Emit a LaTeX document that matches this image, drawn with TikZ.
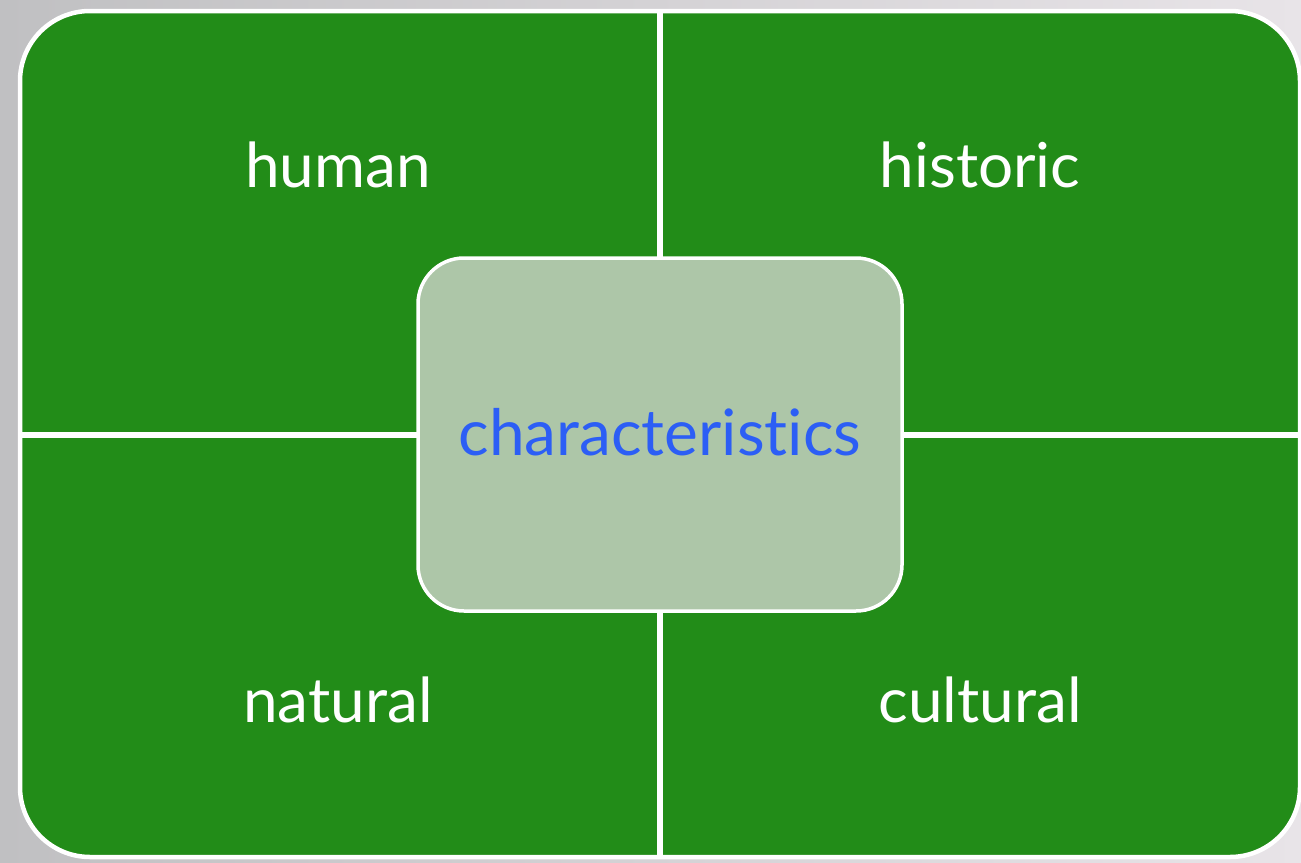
\documentclass[tikz,border=0pt]{standalone}
\usepackage{fontspec}
\setmainfont{Lato}[Ligatures={NoCommon}]
\definecolor{panelgreen}{RGB}{34,140,24}
\definecolor{hubfill}{RGB}{173,198,168}
\definecolor{hubtext}{RGB}{44,94,245}
\definecolor{bgleft}{RGB}{192,192,194}
\definecolor{bgright}{RGB}{232,228,232}
\tikzset{
  x=1pt, y=-1pt,
  divider/.style={draw=white, line width=5.5pt},
  cornertext/.style={text=white, font=\fontsize{62}{62}\selectfont, anchor=base},
  hubbox/.style={draw=white, line width=3.5pt, fill=hubfill, rounded corners=46pt,
    minimum width=484pt, minimum height=353pt, inner sep=0pt},
}
\begin{document}
\begin{tikzpicture}
% canvas
\shade[left color=bgleft, right color=bgright] (0,0) rectangle (1301,862);
\useasboundingbox (0,0) rectangle (1301,862);
% outer green panel
\draw[white, line width=4.5pt, fill=panelgreen, rounded corners=70pt] (20,11) rectangle (1300,857);
% dividers
\coordinate (top) at (660,11);
\coordinate (bottom) at (660,857);
\coordinate (left) at (20,435);
\coordinate (right) at (1300,435);
\draw[divider] (top) -- (bottom);
\draw[divider] (left) -- (right);
% central hub
\node[hubbox] (hub) at (660,434.5) {};
\node[text=hubtext, font=\fontsize{64}{64}\selectfont, anchor=base] (char) at (660,455) {characteristics};
% quadrant labels
\node[cornertext] (human) at (338,187) {human};
\node[cornertext] (historic) at (980,187) {historic};
\node[cornertext] (natural) at (338,722) {natural};
\node[cornertext] (cultural) at (980,722) {cultural};
\end{tikzpicture}
\end{document}
